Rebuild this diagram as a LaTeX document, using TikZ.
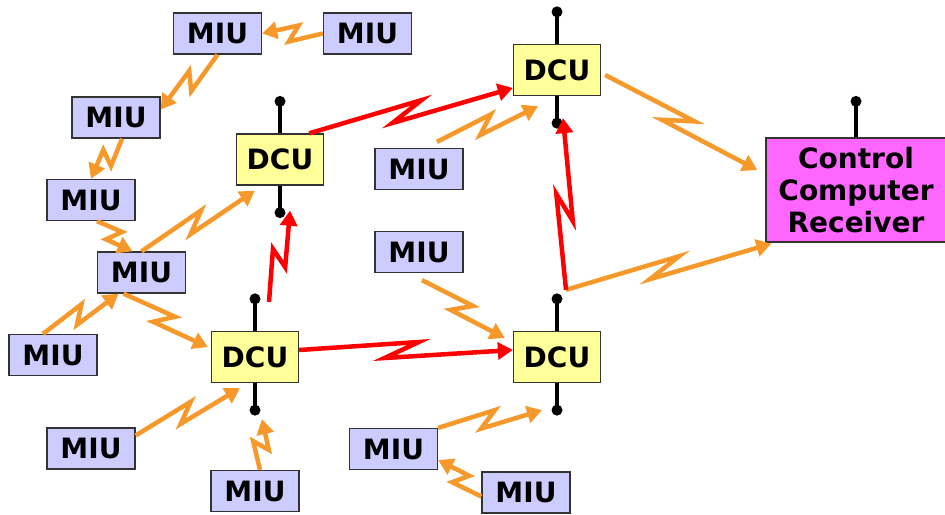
\documentclass[tikz,border=0pt]{standalone}
\usepackage{fontspec}
\setmainfont{DejaVu Sans}
\usetikzlibrary{calc,arrows.meta}
\definecolor{miufill}{HTML}{CCCCFF}
\definecolor{dcufill}{HTML}{FFFF99}
\definecolor{ccfill}{HTML}{FF66FF}
\definecolor{wire}{HTML}{F7982A}
\definecolor{redwire}{HTML}{FF0000}
\definecolor{edge}{HTML}{333333}
\begin{document}
\begin{tikzpicture}[x=1pt,y=-1pt,
 box/.style={draw=edge,line width=1.3pt,inner sep=0pt,font=\bfseries\fontsize{28}{32}\selectfont},
 miu/.style={box,fill=miufill,minimum width=88pt,minimum height=41pt},
 dcu/.style={box,fill=dcufill,minimum width=87pt,minimum height=51pt},
 ccr/.style={box,fill=ccfill,minimum width=180pt,minimum height=104pt,align=center},
 zz/.style={to path={-- ($(\tikztostart)!.56!(\tikztotarget)!8pt!90:(\tikztotarget)$) -- ($(\tikztostart)!.40!(\tikztotarget)!8pt!-90:(\tikztotarget)$) -- (\tikztotarget)\tikztonodes}},
 link/.style={zz,line width=4.5pt,line join=miter,miter limit=6,-{Triangle[length=15pt,width=17pt]}},
 olink/.style={link,draw=wire},
 rlink/.style={link,draw=redwire},
 stem/.style={line width=3.2pt},
 dot/.style={circle,fill=black,inner sep=0pt,minimum size=11pt}
]
\useasboundingbox (0,0) rectangle (945,514);

% MIU nodes
\node[miu] (M1)  at (217.5,33.5) {MIU};
\node[miu] (M2)  at (367.5,33.5) {MIU};
\node[miu] (M3)  at (116,117.5) {MIU};
\node[miu] (M4)  at (91,200) {MIU};
\node[miu] (M5)  at (141.5,272.5) {MIU};
\node[miu] (M6)  at (53,355) {MIU};
\node[miu] (M7)  at (91,448.5) {MIU};
\node[miu] (M8)  at (255,491) {MIU};
\node[miu] (M9)  at (419,169) {MIU};
\node[miu] (M10) at (419,252) {MIU};
\node[miu] (M11) at (393.5,449) {MIU};
\node[miu] (M12) at (526,492.5) {MIU};

% DCU nodes
\node[dcu] (D1) at (280,159.5) {DCU};
\node[dcu] (D2) at (557,70) {DCU};
\node[dcu] (D3) at (255,357) {DCU};
\node[dcu] (D4) at (557,357) {DCU};

% Control computer
\node[ccr] (C) at (856,190) {Control\\Computer\\Receiver};

% antennas
\foreach \d in {D1,D2,D3,D4}{
  \node[dot] (\d t) at ($(\d.north)+(0,-32)$) {};
  \node[dot] (\d b) at ($(\d.south)+(0,27)$) {};
  \draw[stem] (\d.north) -- (\d t.center);
  \draw[stem] (\d.south) -- (\d b.center);
}
\node[dot] (Ct) at ($(C.north)+(0,-36)$) {};
\draw[stem] (C.north) -- (Ct.center);

% connector end points
\coordinate (c3s) at ($(M3.south)+(6,0)$);
\coordinate (c4s) at ($(M4.south)+(6,0)$);
\coordinate (c4e) at ($(M5.north)+(-9,0)$);
\coordinate (c5e) at ($(D1.south west)+(19,5)$);
\coordinate (c6s) at ($(M6.north)+(-10,0)$);
\coordinate (c6e) at ($(M5.south)+(-23,0)$);
\coordinate (c7s) at ($(M5.south)+(-18,0)$);
\coordinate (c7e) at ($(D3.west)+(-3,-10)$);
\coordinate (c8s) at ($(M7.east)+(0,-13)$);
\coordinate (c8e) at ($(D3.south)+(-15,5)$);
\coordinate (c9s) at ($(M8.north)+(5,0)$);
\coordinate (c9e) at ($(D3b)+(7,9)$);
\coordinate (c10s) at ($(M9.north)+(18,-6)$);
\coordinate (c10e) at ($(D2.south)+(-19,10)$);
\coordinate (c11s) at ($(M10.south)+(3,7)$);
\coordinate (c11e) at ($(D4.west)+(-8,-19)$);
\coordinate (c12e) at ($(D4b)+(-15,0)$);
\coordinate (c13s) at ($(M12.west)+(0,4)$);
\coordinate (c13e) at ($(M11.east)+(0,11)$);
\coordinate (c14s) at ($(D2.east)+(4,5)$);
\coordinate (c14e) at ($(C.west)+(-8,-20)$);
\coordinate (c15s) at ($(D4t)+(9,-9)$);
\coordinate (c15e) at ($(C.south west)+(6,1)$);
\coordinate (r1s) at ($(D1.north east)+(-15,0)$);
\coordinate (r1e) at ($(D2.west)+(0,18)$);
\coordinate (r2s) at ($(D3t)+(14,3)$);
\coordinate (r2e) at ($(D1b)+(10,-2)$);
\coordinate (r3s) at ($(D3.east)+(0,-7)$);
\coordinate (r3e) at ($(D4.west)+(0,-7)$);
\coordinate (r4e) at ($(D2b)+(6,-5)$);

% orange wireless links
\draw[olink] (M2.west) to (M1.east);
\draw[olink] (M1.south) to (M3.10);
\draw[olink] (c3s) to (M4.north);
\draw[olink] (c4s) to (c4e);
\draw[olink] (M5.north) to (c5e);
\draw[olink] (c6s) to (c6e);
\draw[olink] (c7s) to (c7e);
\draw[olink] (c8s) to (c8e);
\draw[olink] (c9s) to (c9e);
\draw[olink] (c10s) to (c10e);
\draw[olink] (c11s) to (c11e);
\draw[olink] (M11.north east) to (c12e);
\draw[olink] (c13s) to (c13e);
\draw[olink] (c14s) to (c14e);
\draw[olink] (c15s) to (c15e);

% red links
\draw[rlink] (r1s) to (r1e);
\draw[rlink] (r2s) to (r2e);
\draw[rlink] (r3s) to (r3e);
\draw[rlink] (c15s) to (r4e);
\end{tikzpicture}
\end{document}
